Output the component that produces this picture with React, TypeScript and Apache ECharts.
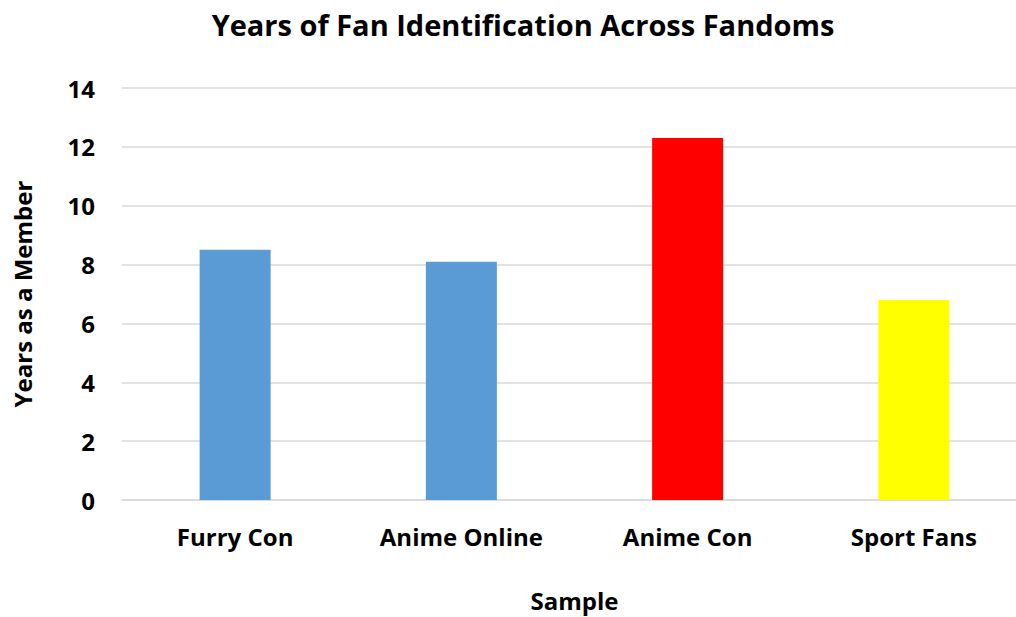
import React, { useEffect, useRef } from "react";
import * as echarts from "echarts";

const categories = ["Furry Con", "Anime Online", "Anime Con", "Sport Fans"];
const values = [8.5, 8.1, 12.3, 6.8];
const barColors = ["#5B9BD5", "#5B9BD5", "#FF0000", "#FFFF00"];
const titleText = "Years of Fan Identification Across Fandoms";
const xName = "Sample";
const yName = "Years as a Member";

const FONT = "'Open Sans', 'Noto Sans', sans-serif";

export default function App() {
  const ref = useRef<HTMLDivElement>(null);
  useEffect(() => {
    if (!ref.current) return;
    const chart = echarts.init(ref.current, undefined, { renderer: "svg" });
    chart.setOption({
      animation: false,
      backgroundColor: "#ffffff",
      title: {
        text: titleText,
        left: 518,
        top: 5,
        textAlign: "center",
        textStyle: { fontFamily: FONT, fontWeight: "bold", fontSize: 29, color: "#000" },
      },
      grid: { left: 122, right: 3, top: 88, bottom: 111, containLabel: false },
      xAxis: {
        type: "category",
        data: categories,
        name: xName,
        nameLocation: "middle",
        nameGap: 88,
        nameTextStyle: { fontFamily: FONT, fontWeight: "bold", fontSize: 24, color: "#000" },
        axisLine: { show: true, lineStyle: { color: "#d9d9d9", width: 1.5 } },
        axisTick: { show: false },
        axisLabel: { fontFamily: FONT, fontWeight: "bold", fontSize: 24, color: "#000", margin: 24 },
      },
      yAxis: {
        type: "value",
        min: 0,
        max: 14,
        interval: 2,
        name: yName,
        nameLocation: "middle",
        nameGap: 88,
        nameRotate: 90,
        nameTextStyle: { fontFamily: FONT, fontWeight: "bold", fontSize: 24, color: "#000" },
        axisLine: { show: false },
        axisTick: { show: false },
        axisLabel: { fontFamily: FONT, fontWeight: "bold", fontSize: 24, color: "#000", margin: 27 },
        splitLine: { lineStyle: { color: "#d9d9d9", width: 1.5 } },
      },
      series: [
        {
          type: "bar",
          data: values.map((v, i) => ({ value: v, itemStyle: { color: barColors[i] } })),
          barWidth: 71,
        },
      ],
    });
    return () => chart.dispose();
  }, []);
  return (
    <div style={{ position: "absolute", left: 0, top: 0, width: 1016, height: 617, overflow: "hidden", background: "#fff" }}>
      <div ref={ref} style={{ position: "absolute", left: 0, top: 0, width: 1030, height: 617 }} />
    </div>
  );
}
